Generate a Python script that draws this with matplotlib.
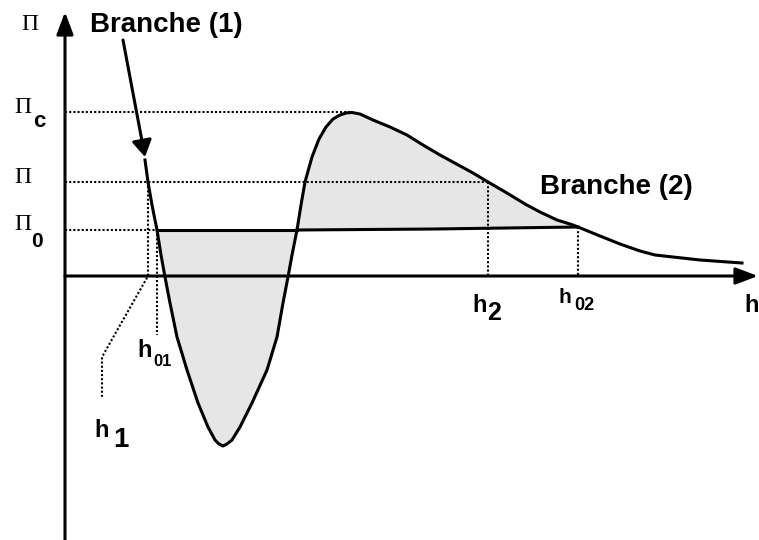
import numpy as np
import matplotlib.pyplot as plt

plt.rcParams['font.family'] = ['Liberation Sans', 'DejaVu Sans']

# Data (h, Pi) ----------------------------------------------------------------
# courbe complete : branche (1) -> lobe negatif -> pic -> branche (2)
h_curve = [80, 83, 87, 92, 96, 100, 105, 112, 122, 133, 143, 150, 154, 158, 162,
           167, 175, 187, 202, 212, 218, 223, 227, 232, 236, 240, 247, 254, 261,
           268, 275, 281, 287, 295, 308, 325, 342, 358, 375, 408, 423, 442, 460,
           475, 492, 508, 513, 535, 555, 575, 590, 635, 677]
pi_curve = [116, 94, 71, 46, 21, -1, -27, -61, -94, -127, -151, -164, -168, -170, -168,
            -164, -151, -127, -94, -61, -27, -1, 21, 46, 71, 94, 119, 137, 149,
            157, 161, 163, 163.5, 162, 156, 149, 141, 131, 121, 103, 94, 83, 72,
            64, 56, 51, 49, 40, 32, 25, 21, 16, 13]

# fleche branche (1)
h_branch1 = [58, 80]
pi_branch1 = [236, 119]

# palier Pi0
h_pi0_left = [92, 232]
pi_pi0_left = [46, 46]
h_pi0_right = [232, 370, 513]
pi_pi0_right = [46, 47, 49]

# niveaux
pi_c = 164
pi_mid = 94
pi_0 = 46
h_peak = 287
h_01 = 92
h_2 = 423
h_02 = 513

# lignes pointillees de rappel h1
h_lead1 = [83, 83, 37, 37]
pi_lead1 = [94, 0, -81, -122]

# Figure ----------------------------------------------------------------------
fig = plt.figure(figsize=(7.59, 5.40), dpi=100)
ax = fig.add_axes([0, 0, 1, 1])
ax.set_xlim(-65, 694)
ax.set_ylim(-264, 276)
ax.axis('off')

hc = np.array(h_curve)
pc = np.array(pi_curve)

# zones grisees
i0 = h_curve.index(92)
i1 = h_curve.index(232)
i2 = h_curve.index(513)
ax.fill(hc[i0:i1 + 1], pc[i0:i1 + 1], color='#e6e6e6', lw=0, zorder=1)
ax.fill(np.r_[hc[i1:i2 + 1], h_pi0_right[::-1]], np.r_[pc[i1:i2 + 1], pi_pi0_right[::-1]],
        color='#e6e6e6', lw=0, zorder=1)

# pointilles
dot = dict(color='k', lw=1.5, ls=(0, (1, 1)), zorder=2)
ax.plot([0, h_peak], [pi_c, pi_c], **dot)
ax.plot([0, h_2], [pi_mid, pi_mid], **dot)
ax.plot([0, h_01], [pi_0, pi_0], **dot)
ax.plot(h_lead1, pi_lead1, **dot)
ax.plot([h_01, h_01], [pi_0, -59], **dot)
ax.plot([h_2, h_2], [pi_mid, 0], **dot)
ax.plot([h_02, h_02], [pi_pi0_right[-1], 0], **dot)

# courbe + palier
ax.plot(hc, pc, color='k', lw=2.2, zorder=3, solid_joinstyle='round')
ax.plot(h_pi0_left, pi_pi0_left, color='k', lw=2.2, zorder=3)
ax.plot(h_pi0_right, pi_pi0_right, color='k', lw=2.2, zorder=3)

# axes
ax.annotate('', xy=(0, 264), xytext=(0, -264), annotation_clip=False,
            arrowprops=dict(arrowstyle='-|>,head_length=0.45,head_width=0.17',
                            mutation_scale=30, lw=2.2, color='k', shrinkA=0, shrinkB=0))
ax.annotate('', xy=(693, 0), xytext=(0, 0), annotation_clip=False,
            arrowprops=dict(arrowstyle='-|>,head_length=0.45,head_width=0.17',
                            mutation_scale=30, lw=2.2, color='k', shrinkA=0, shrinkB=0))
# fleche branche (1)
ax.annotate('', xy=(h_branch1[1], pi_branch1[1]), xytext=(h_branch1[0], pi_branch1[0]),
            arrowprops=dict(arrowstyle='-|>,head_length=0.5,head_width=0.3',
                            mutation_scale=20, lw=2.2, color='k', shrinkA=0, shrinkB=0))


# Textes (position en pixels de l'image -> coordonnees h, Pi)
def lab(px, py, s, size, serif=False):
    fam = ['Liberation Serif', 'DejaVu Serif'] if serif else ['Liberation Sans', 'DejaVu Sans']
    ax.text(px - 65, 276 - py, s, fontsize=size, ha='left', va='baseline',
            family=fam, fontweight='normal' if serif else 'bold', clip_on=False)


lab(90, 32, 'Branche (1)', 20)
lab(540, 194, 'Branche (2)', 20)

lab(21, 30, '\u03a0', 17, serif=True)
lab(14, 113, '\u03a0', 17, serif=True)
lab(33, 127, 'c', 16)
lab(14, 183, '\u03a0', 17, serif=True)
lab(14, 230, '\u03a0', 17, serif=True)
lab(31, 247, '0', 15)

lab(137, 357, 'h', 17)
lab(153, 366, '01', 12)
lab(94, 437, 'h', 17)
lab(113, 447, '1', 20)
lab(472, 312, 'h', 17)
lab(487, 320, '2', 18)
lab(559, 303, 'h', 15)
lab(574, 310, '02', 13)
lab(744, 312, 'h', 17)

fig.savefig('out.png', dpi=100)
